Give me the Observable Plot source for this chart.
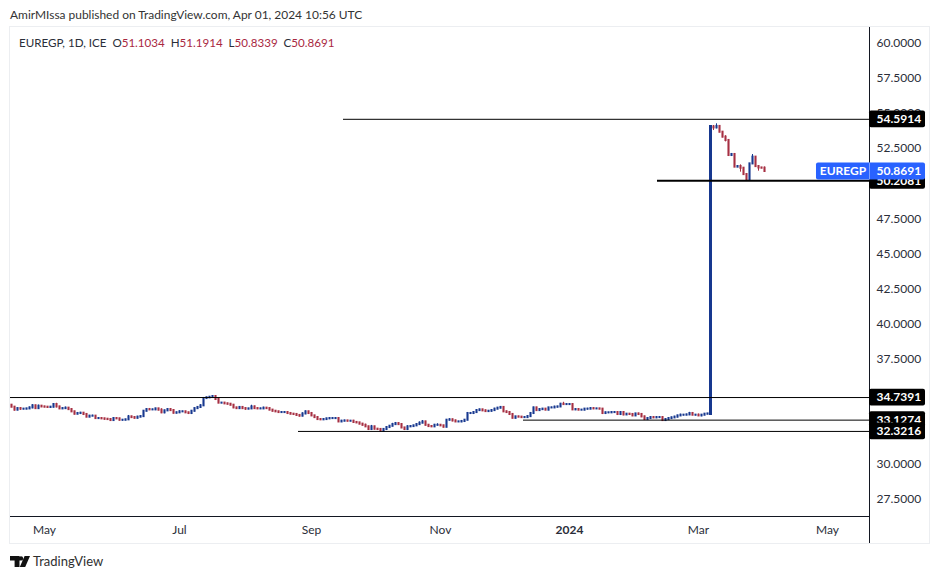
<!DOCTYPE html>
<html><head><meta charset="utf-8">
<script src="https://cdn.jsdelivr.net/npm/d3@7"></script>
<script src="https://cdn.jsdelivr.net/npm/@observablehq/plot@0.6"></script>
<style>
html,body{margin:0;padding:0;background:#fff;overflow:hidden}
body{font-family:Lato,"Noto Sans",sans-serif;color:#2a2e39;width:939px;height:579px;position:relative}
#head{position:absolute;left:10px;top:7px;font-size:11.95px;line-height:15px;color:#333}
#wrap{position:absolute;left:9px;top:26px;width:919px;height:516px;border:1px solid #eceef1;background:#fff}
#wrap svg{display:block;background:#fff}
#legend{position:absolute;left:9px;top:8px;font-size:11.6px;line-height:15px;white-space:pre;color:#2a2e39}
#legend b{font-weight:400;color:#a9283f}
#foot{position:absolute;left:10px;top:553px;height:16px;display:flex;align-items:center;font-size:13px;color:#2f2f2f}
#foot svg{margin-right:3px}
</style></head>
<body>
<div id="head"></div>
<div id="wrap"><div id="chart"></div><div id="legend"></div></div>
<div id="foot"><svg width="20" height="11" viewBox="0 0 20 11"><path d="M0 0H9.5V11H4.6V4.4H0Z M11 0.2 A2.2 2.2 0 1 1 11 4.6 A2.2 2.2 0 1 1 11 0.2Z M14.6 0H20L15.2 11H9.8Z" fill="#111"/></svg><span>TradingView</span></div>
<script>
const headline = "AmirMIssa published on TradingView.com, Apr 01, 2024 10:56 UTC";
const symbolLine = "EUREGP, 1D, ICE";
const ohlcLabels = ["O","H","L","C"];
const ohlcValues = ["51.1034","51.1914","50.8339","50.8691"];
const firstOpen = 34.19;
const closes = [
34.05,33.84,33.95,33.91,33.91,33.93,34.00,34.15,33.95,34.12,34.07,34.05,34.03,34.05,34.24,34.07,33.93,33.95,33.98,33.88,
33.72,33.55,33.60,33.62,33.53,33.34,33.41,33.41,33.24,33.24,33.22,33.19,33.17,33.10,33.24,33.22,33.12,33.12,33.15,33.36,
33.31,33.26,33.34,33.38,33.76,33.88,33.86,33.86,33.93,33.84,33.65,33.79,33.88,33.81,33.62,33.65,33.72,33.72,33.65,33.60,
33.76,33.95,34.03,34.15,34.67,34.72,34.76,34.81,34.60,34.34,34.34,34.29,34.26,34.19,34.00,33.95,34.03,33.95,33.91,33.93,
34.07,33.95,33.93,33.93,33.98,33.95,33.84,33.76,33.72,33.67,33.67,33.67,33.60,33.55,33.53,33.46,33.41,33.57,33.72,33.60,
33.43,33.31,33.17,33.15,33.17,33.22,33.24,33.24,33.24,33.00,33.05,33.07,33.05,33.05,32.96,32.93,32.84,32.76,32.65,32.46,
32.65,32.48,32.46,32.34,32.46,32.60,32.69,32.81,32.88,32.81,32.57,32.46,32.65,32.67,32.72,32.81,32.91,33.00,32.76,32.67,
32.65,32.76,32.76,32.72,32.62,33.12,33.15,33.07,33.00,33.00,33.03,33.12,33.60,33.60,33.67,33.81,33.86,33.79,33.74,33.76,
33.81,33.91,33.98,34.03,33.72,33.67,33.53,33.26,33.36,33.34,33.31,33.31,33.38,33.60,34.00,33.81,33.88,33.91,33.84,34.00,
34.00,34.05,34.07,34.26,34.24,34.24,34.24,33.86,33.88,33.84,33.84,33.91,33.91,33.95,33.93,33.93,33.91,33.60,33.65,33.65,
33.67,33.67,33.53,33.67,33.50,33.55,33.53,33.43,33.57,33.53,33.36,33.17,33.24,33.31,33.29,33.31,33.31,33.10,33.17,33.24,
33.29,33.34,33.43,33.48,33.48,33.50,33.60,33.48,33.48,33.43,33.48,33.55,33.57,
54.05,53.98,54.08,53.67,53.32,53.08,52.01,52.08,51.18,51.22,51.10,50.65,50.27,51.41,51.89,51.22,51.12,51.1034,50.8691];
// wick length above and below each candle body, in hundredths of a price unit
const wickUp = [
4,5,3,5,4,3,6,8,4,8,5,4,3,5,6,9,4,5,8,3,
4,3,4,6,3,3,5,7,3,2,5,3,2,6,5,4,3,2,3,10,
4,3,6,3,2,4,8,5,4,3,10,5,4,6,3,5,7,4,3,3,
4,3,5,8,3,4,5,6,3,4,2,3,4,3,5,4,5,3,6,3,
12,6,3,5,7,3,2,4,3,3,5,4,3,7,4,3,5,8,6,3,
5,3,2,4,5,3,4,7,5,2,6,5,3,4,6,4,3,5,8,4,
10,3,5,1,5,6,4,9,8,5,4,3,8,4,3,6,9,10,4,5,
4,6,11,5,3,4,8,5,6,4,3,5,3,4,6,4,5,3,6,4,
4,6,5,7,3,5,2,4,3,4,2,5,4,6,5,4,6,5,4,3,
5,7,4,6,14,6,4,5,3,5,4,3,6,6,4,3,3,4,5,2,
4,3,6,4,3,5,4,6,3,5,6,5,3,4,5,4,3,5,3,4,
5,6,4,7,3,5,8,4,3,8,4,3,3,
5,10,19,3,4,10,3,2,2,2,12,3,2,0,19,3,7,3,8.8];
const wickDown = [
3,6,4,8,4,3,4,6,4,5,4,3,4,3,5,7,4,3,3,4,
3,5,3,3,5,3,2,3,5,3,4,6,4,7,3,4,5,6,3,4,
3,5,4,3,3,3,4,3,5,4,6,7,4,3,5,4,3,3,5,6,
3,4,3,3,3,4,2,3,5,3,3,2,4,3,5,4,4,5,8,3,
4,3,5,4,3,5,3,4,4,3,3,5,4,3,4,3,6,4,5,3,
4,5,3,4,3,4,5,3,4,4,3,3,5,3,3,4,3,4,3,5,
4,5,3,3,4,3,4,3,5,3,3,6,4,3,5,4,3,3,5,4,
3,5,4,3,4,3,4,6,3,4,5,4,3,3,4,5,3,4,3,5,
6,4,3,4,3,5,2,3,4,3,3,4,5,3,4,3,5,4,3,4,
4,3,5,3,4,5,3,4,5,3,3,4,6,3,5,4,3,5,3,6,
3,5,4,3,6,4,3,5,4,3,5,3,5,4,3,5,3,4,6,3,
4,3,5,3,5,3,4,3,5,4,6,3,3,
0,19,7,3,5,10,2,2,2,3,28,3,5,5,0,5,23,3,3.5];
const levelPrices = [54.5914,50.2081,34.7391,33.1274,32.3216];
const levelStarts = [110.67,215.33,-0.33,170.67,95.67];
const levelWeights = [1,2,1,1,1];
const priceTicks = [27.5,30,32.5,35,37.5,40,42.5,45,47.5,50,52.5,55,57.5,60];
const monthTicks = [11,56,100,143,229,272];
const monthNames = ["May","Jul","Sep","Nov","Mar","May"];
const yearTick = [186];
const yearName = "2024";
const lastSymbol = "EUREGP";
const lastPrice = 50.8691;

const up = "#17388f", down = "#a62f42", ink = "#131722";
const font = 'Lato,"Noto Sans",sans-serif';
const xMin = -1/3, xMax = 286;
const tagW = 18.67, tagH = 0.6, lastW = 17.67;

const bars = closes.map((c,i)=>{
  const o = i ? closes[i-1] : firstOpen;
  return {i,o,c,h:Math.max(o,c)+wickUp[i]/100,l:Math.min(o,c)-wickDown[i]/100,col:c>=o?up:down};
});
const levels = levelPrices.map((p,k)=>({p,s:levelStarts[k],w:levelWeights[k]}));

document.getElementById("head").textContent = headline;
document.getElementById("legend").innerHTML = symbolLine + "  " + ohlcLabels.map((k,i)=>`${k}<b>${ohlcValues[i]}</b>`).join("  ");

// each tag is a box and its text, painted in turn so that a later box hides the one it overlaps
const tagMarks = levels.flatMap(d=>[
  Plot.rect([d],{x1:()=>xMax,x2:()=>xMax+tagW,y1:d=>d.p-tagH,y2:d=>d.p+tagH,fill:"#000",rx:2}),
  Plot.text([d],{x:()=>xMax,y:"p",text:d=>d.p.toFixed(4),fill:"#fff",fontWeight:700,textAnchor:"start",dx:7})
]);

const chart = Plot.plot({
  width:919, height:516,
  marginTop:0, marginLeft:0, marginRight:60, marginBottom:27,
  style:{fontFamily:font,fontSize:"12px",color:"#2a2e39",background:"#fff",overflow:"visible"},
  x:{domain:[xMin,xMax],axis:null},
  y:{domain:[26.2513,61.1416],axis:null},
  marks:[
    Plot.ruleX(bars,{x:"i",y1:"l",y2:"h",stroke:"col",strokeWidth:1}),
    Plot.ruleX(bars,{x:"i",y1:"o",y2:"c",stroke:"col",strokeWidth:d=>Math.abs(d.c-d.o)>5?3:2.1,strokeLinecap:"square"}),
    Plot.ruleY(levels,{y:"p",x1:"s",x2:()=>xMax,stroke:"#000",strokeWidth:"w"}),
    Plot.axisX({anchor:"bottom",ticks:monthTicks,tickSize:0,tickPadding:9,fill:"#2a2e39",
      tickFormat:d=>monthNames[monthTicks.indexOf(d)],label:null}),
    Plot.axisX({anchor:"bottom",ticks:yearTick,tickSize:0,tickPadding:9,fill:"#2a2e39",fontWeight:"bold",
      tickFormat:()=>yearName,label:null}),
    Plot.axisY({anchor:"right",ticks:priceTicks,tickSize:0,tickPadding:7,fill:"#2a2e39",
      tickFormat:d=>d.toFixed(4),label:null}),
    Plot.ruleY([26.2513],{stroke:ink,strokeWidth:1}),
    Plot.ruleX([xMax],{stroke:ink,strokeWidth:1,insetBottom:-27}),
    ...tagMarks,
    Plot.rect([lastPrice],{x1:()=>xMax-lastW,x2:()=>xMax+tagW,y1:d=>d-tagH,y2:d=>d+tagH,fill:"#2962ff",rx:2}),
    Plot.ruleX([xMax],{y1:lastPrice-tagH,y2:lastPrice+tagH,stroke:"#7fa0ff",strokeWidth:1}),
    Plot.text([lastSymbol],{x:()=>xMax-lastW/2,y:()=>lastPrice,text:d=>d,fill:"#fff",fontWeight:700}),
    Plot.text([lastPrice],{x:()=>xMax,y:d=>d,text:d=>d.toFixed(4),fill:"#fff",fontWeight:700,textAnchor:"start",dx:7})
  ]
});
document.getElementById("chart").appendChild(chart);
</script>
</body></html>
